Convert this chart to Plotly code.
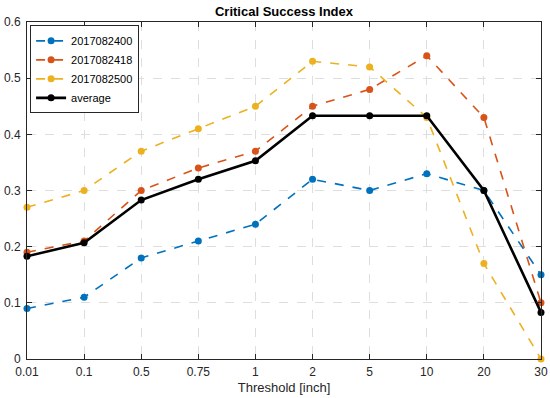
import plotly.graph_objects as go

thresholds = ["0.01", "0.1", "0.5", "0.75", "1", "2", "5", "10", "20", "30"]
s_2017082400 = [0.09, 0.11, 0.18, 0.21, 0.24, 0.32, 0.30, 0.33, 0.30, 0.15]
s_2017082418 = [0.19, 0.21, 0.30, 0.34, 0.37, 0.45, 0.48, 0.54, 0.43, 0.10]
s_2017082500 = [0.27, 0.30, 0.37, 0.41, 0.45, 0.53, 0.52, 0.43, 0.17, 0.00]
average = [0.183, 0.207, 0.283, 0.320, 0.353, 0.433, 0.433, 0.433, 0.300, 0.083]
y_ticks = [0, 0.1, 0.2, 0.3, 0.4, 0.5, 0.6]
y_ticklabels = ["0", "0.1", "0.2", "0.3", "0.4", "0.5", "0.6"]

series = [
    ("2017082400", s_2017082400, "#0072BD", "dash", 1.6),
    ("2017082418", s_2017082418, "#D95319", "dash", 1.6),
    ("2017082500", s_2017082500, "#EDB120", "dash", 1.6),
    ("average", average, "#000000", "solid", 2.6),
]

fig = go.Figure()
for name, vals, color, dash, w in series:
    fig.add_trace(go.Scatter(
        x=thresholds, y=vals, name=name, mode="lines+markers",
        line=dict(color=color, dash=dash, width=w),
        marker=dict(color=color, size=7),
        cliponaxis=False,
    ))

axis_common = dict(
    showline=True, linecolor="#262626", linewidth=1, mirror="allticks",
    ticks="inside", ticklen=5, tickcolor="#262626",
    showgrid=True, gridcolor="#DEDEDE", griddash="dash", gridwidth=1,
    zeroline=False, tickfont=dict(size=12, color="#262626"),
    automargin=False,
)

fig.update_layout(
    width=550, height=398,
    margin=dict(l=27, r=9, t=22, b=39),
    paper_bgcolor="white", plot_bgcolor="white",
    font=dict(family="Liberation Sans, Arial, sans-serif", color="#262626"),
    title=dict(text="<b>Critical Success Index</b>", x=(27 + 541) / 2 / 550, xanchor="center",
               y=1 - 11 / 398, yanchor="middle", font=dict(size=13, color="#000000"),
               automargin=False),
    xaxis=dict(type="category", range=[0, 9], title=dict(text="Threshold [inch]", standoff=4,
               font=dict(size=13)), ticklabelstandoff=2, **axis_common),
    yaxis=dict(range=[0, 0.6], tickvals=y_ticks, ticktext=y_ticklabels, ticklabelstandoff=3,
               **axis_common),
    legend=dict(x=0.006, y=0.99, xanchor="left", yanchor="top", bgcolor="white",
                bordercolor="#262626", borderwidth=1, font=dict(size=11, color="#000000"),
                tracegroupgap=0, itemwidth=30),
    showlegend=True,
)

fig.write_html("out.html", config={"displayModeBar": False},
               post_script="document.body.style.margin='0';document.body.style.padding='0';")
